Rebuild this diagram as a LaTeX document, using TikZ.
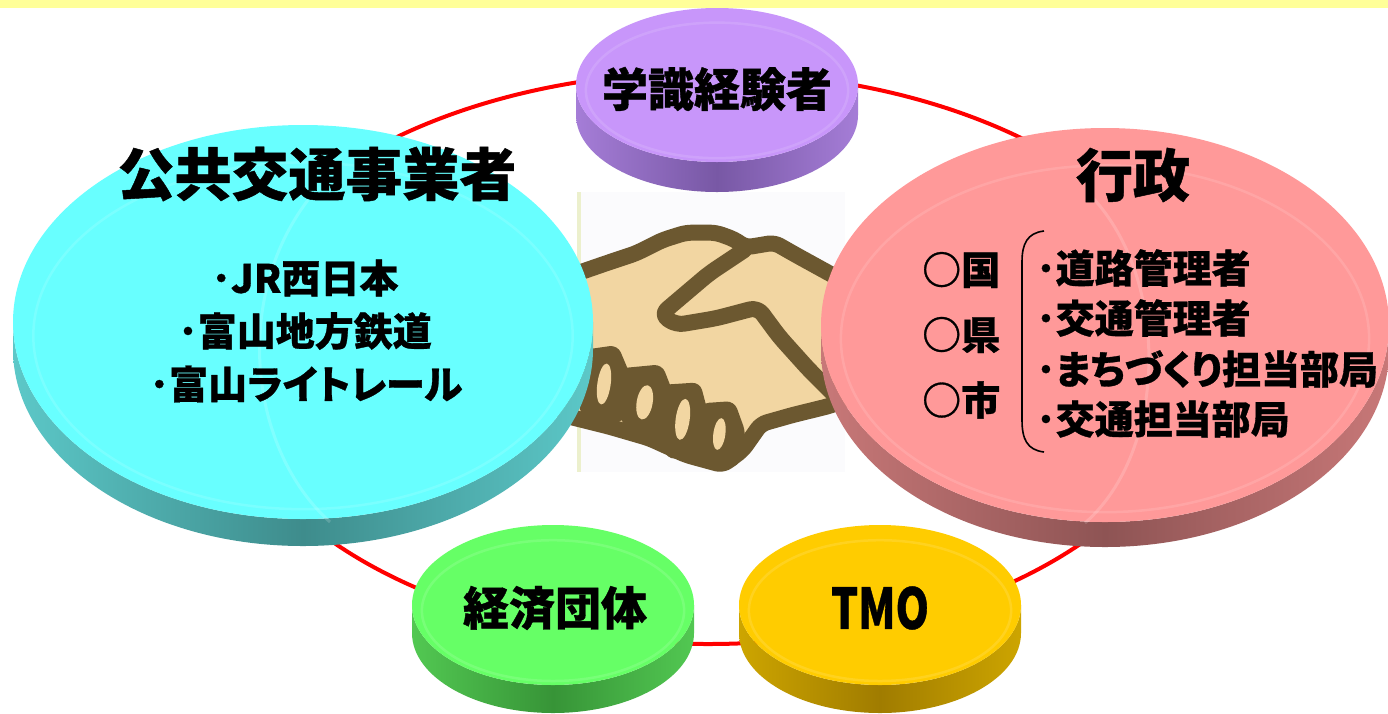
\documentclass[tikz,border=0pt]{standalone}
\usepackage{fontspec}
\newfontfamily\jp{Noto Sans CJK JP}[RawFeature=+palt,BoldFeatures={FakeBold=0.8}]
\usetikzlibrary{shapes.geometric}

\definecolor{bandyellow}{RGB}{255,255,153}
\definecolor{ringred}{RGB}{255,0,0}
\definecolor{purpletop}{RGB}{200,150,250}
\definecolor{purpleedge}{RGB}{165,125,215}
\definecolor{purplemid}{RGB}{120,88,165}
\definecolor{cyantop}{RGB}{104,255,255}
\definecolor{cyanedge}{RGB}{92,200,200}
\definecolor{cyanmid}{RGB}{62,140,140}
\definecolor{pinktop}{RGB}{255,153,153}
\definecolor{pinkedge}{RGB}{200,120,120}
\definecolor{pinkmid}{RGB}{142,84,84}
\definecolor{greentop}{RGB}{102,255,102}
\definecolor{greenedge}{RGB}{82,200,82}
\definecolor{greenmid}{RGB}{55,148,55}
\definecolor{goldtop}{RGB}{255,204,0}
\definecolor{goldedge}{RGB}{205,165,0}
\definecolor{goldmid}{RGB}{160,124,0}
\definecolor{handbrown}{RGB}{108,88,48}
\definecolor{handtan}{RGB}{242,214,162}
\definecolor{photobg}{RGB}{251,251,253}
\definecolor{photoedge}{RGB}{236,240,205}

\newcommand\setfs[1]{\fontsize{#1}{#1}\selectfont}

% a flat 3D disk: name, cx, cy, rx, ry, thickness, top colour, side edge colour, side middle colour
\newcommand\drawdisk[9]{%
  \path[left color=#8,right color=#8,middle color=#9]
    (#2-#4,#3) -- (#2-#4,#3+#6)
    arc[start angle=180,end angle=0,x radius=#4,y radius=#5]
    -- (#2+#4,#3)
    arc[start angle=0,end angle=180,x radius=#4,y radius=#5] -- cycle;
  \node[disk,fill=#7,minimum width=2*#4pt,minimum height=2*#5pt] (#1) at (#2,#3) {};
  \draw[white,opacity=0.12,line width=2.5pt]
    (#2,#3+0.07*#5) ellipse[x radius=0.93*#4,y radius=0.88*#5];
}

\tikzset{
  disk/.style={ellipse,inner sep=0pt,outer sep=0pt,draw=none},
  lbl/.style={inner sep=0pt,text=black},
  head/.style={lbl,font=\jp\bfseries\setfs{57}},
  mid/.style={lbl,font=\jp\bfseries\setfs{46}},
  item/.style={lbl,font=\jp\bfseries\setfs{39}},
  handline/.style={handbrown,line width=16pt,line join=round,line cap=round},
  gleam/.style={white,opacity=0.16,line width=3pt}
}

\begin{document}
\begin{tikzpicture}[x=1pt,y=-1pt]
\useasboundingbox (0,0) rectangle (1388,713);
\fill[white] (0,0) rectangle (1388,713);

% top band
\fill[bandyellow] (0,0) rectangle (1388,8);

% the ring joining all partners
\draw[ringred,line width=4pt] (708,358) ellipse[x radius=490,y radius=286];

% handshake picture
\fill[photobg] (577,192) rectangle (845,472);
\fill[photoedge] (577,192) rectangle (581,472);
\begin{scope}[shift={(576,220)},scale=1/3]
  \filldraw[fill=handtan,draw=handbrown,line width=16pt,line join=round,rounded corners=6pt]
    (-40,175) -- (90,130) -- (180,100) -- (260,60) -- (330,38) -- (420,38)
    -- (475,58) -- (510,82) -- (595,68) -- (660,105) -- (760,160) -- (860,215)
    -- (860,520) -- (760,558) -- (650,585) -- (555,612) -- (500,690)
    -- (440,735) -- (330,705) -- (220,655) -- (100,620) -- (-40,585) -- cycle;
  % thumb and index finger of the right hand
  \draw[handline,rounded corners=8pt]
    (505,90) -- (400,160) -- (255,283) -- (300,315) -- (420,295) -- (545,262)
    -- (610,350) -- (700,450) -- (790,540);
  % fingers of the left hand
  \fill[handbrown,rounded corners=8pt]
    (20,390) -- (125,375) -- (165,470) -- (155,600) -- (40,615) -- (5,560) -- cycle;
  \fill[handbrown,rounded corners=8pt]
    (132,445) -- (258,433) -- (292,520) -- (276,650) -- (158,660) -- (124,560) -- cycle;
  \fill[handbrown,rounded corners=8pt]
    (250,495) -- (372,487) -- (402,600) -- (386,710) -- (272,717) -- (244,600) -- cycle;
  \fill[handbrown,rounded corners=8pt]
    (374,550) -- (475,543) -- (510,640) -- (488,740) -- (392,747) -- (368,640) -- cycle;
  \fill[handtan,rotate around={-8:(84,492)}] (84,492) ellipse[x radius=20,y radius=62];
  \fill[handtan,rotate around={-10:(206,547)}] (206,547) ellipse[x radius=24,y radius=52];
  \fill[handtan,rotate around={-8:(320,598)}] (320,598) ellipse[x radius=21,y radius=62];
  \fill[handtan,rotate around={-8:(430,642)}] (430,642) ellipse[x radius=18,y radius=48];
\end{scope}

% partner disks
\drawdisk{gakushiki}{717}{85}{141}{77}{30}{purpletop}{purpleedge}{purplemid}
\drawdisk{jigyosha}{303}{322}{290}{197}{27}{cyantop}{cyanedge}{cyanmid}
\drawdisk{gyosei}{1105}{325}{284}{197}{25}{pinktop}{pinkedge}{pinkmid}
\drawdisk{keizai}{553}{605}{141}{80}{28}{greentop}{greenedge}{greenmid}
\drawdisk{tmo}{880}{605}{141}{80}{28}{goldtop}{goldedge}{goldmid}

% soft reflections on the large disks
\draw[gleam] (308,200) .. controls (232,300) and (250,450) .. (330,522);
\draw[gleam] (1092,197) .. controls (1170,280) and (1168,450) .. (1085,523);

% labels
\node[mid] (tGakushiki) at (717,89) {学識経験者};
\node[head] (tJigyosha) at (317,174) {公共交通事業者};
\node[head] (tGyosei) at (1133,175) {行政};
\node[mid] (tKeizai) at (555,608) {経済団体};
\node[lbl,font=\jp\bfseries\setfs{56}] (tTmo) at (880,608) {\scalebox{0.76}[1]{TMO}};

\node[item] (jr) at (305,278) {･JR西日本};
\node[item] (chitetsu) at (305,331) {･富山地方鉄道};
\node[item] (light) at (306,384) {･富山ライトレール};

\node[item,anchor=west] (kuni) at (922,270) {○国};
\node[item,anchor=west] (ken) at (922,335) {○県};
\node[item,anchor=west] (shi) at (922,400) {○市};

\draw[black,line width=1.6pt]
  (1044,231) .. controls (1027,233) and (1022,244) .. (1022,262)
  -- (1022,420) .. controls (1022,439) and (1027,450) .. (1044,452);

\node[item,anchor=west] (doro) at (1036,268) {･道路管理者};
\node[item,anchor=west] (kotsu) at (1036,318) {･交通管理者};
\node[item,anchor=west] (machi) at (1036,369) {･まちづくり担当部局};
\node[item,anchor=west] (tanto) at (1036,419) {･交通担当部局};
\end{tikzpicture}
\end{document}
